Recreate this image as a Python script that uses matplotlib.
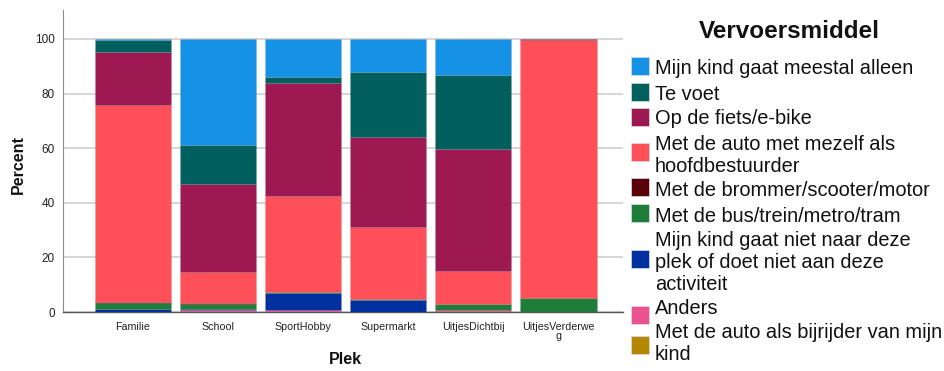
import matplotlib
matplotlib.use("Agg")
import matplotlib.pyplot as plt
from matplotlib.patches import Rectangle
import numpy as np

plt.rcParams['font.family'] = ['Liberation Sans', 'DejaVu Sans']

# Places (x categories)
plekken = ["Familie", "School", "SportHobby", "Supermarkt", "UitjesDichtbij", "UitjesVerderweg"]
plek_labels = ["Familie", "School", "SportHobby", "Supermarkt", "UitjesDichtbij", "UitjesVerderwe\ng"]

# Percentages per mode of transport, one value per place (stacked bottom -> top)
bijrijder = [0.0, 0.0, 0.0, 0.0, 0.0, 0.0]
anders = [0.0, 0.6, 0.9, 0.0, 0.6, 0.0]
niet = [1.0, 0.5, 6.2, 4.4, 0.0, 0.0]
bus = [2.4, 1.7, 0.4, 0.4, 2.5, 5.0]
brommer = [0.4, 0.4, 0.0, 0.0, 0.0, 0.3]
auto_zelf = [72.0, 11.5, 34.9, 26.3, 12.0, 94.5]
fiets = [19.3, 32.3, 41.4, 33.0, 44.6, 0.2]
te_voet = [4.4, 14.3, 2.4, 23.9, 27.0, 0.0]
alleen = [0.5, 38.7, 13.8, 12.0, 13.3, 0.0]

legend_labels = [
    "Mijn kind gaat meestal alleen",
    "Te voet",
    "Op de fiets/e-bike",
    "Met de auto met mezelf als\nhoofdbestuurder",
    "Met de brommer/scooter/motor",
    "Met de bus/trein/metro/tram",
    "Mijn kind gaat niet naar deze\nplek of doet niet aan deze\nactiviteit",
    "Anders",
    "Met de auto als bijrijder van mijn\nkind",
]
colors = ["#1591E6", "#015F5E", "#9E1951", "#FF4F59", "#5B0008",
          "#1E7D39", "#0030A0", "#EA538F", "#B58600"]

series = [alleen, te_voet, fiets, auto_zelf, brommer, bus, niet, anders, bijrijder]

W, H = 944.0, 371.0
fig = plt.figure(figsize=(9.44, 3.71), dpi=100)
ax = fig.add_axes([0.0667, 0.159, 0.5935, 0.814])

x = np.arange(len(plekken))
bottom = np.zeros(len(plekken))
# draw from the bottom of the stack upward
for vals, col in zip(reversed(series), reversed(colors)):
    v = np.array(vals)
    ax.bar(x, v, bottom=bottom, width=0.894, color=col,
           edgecolor=(0.5, 0.5, 0.5, 0.18), linewidth=0.5, zorder=3)
    bottom += v

ax.set_xlim(-0.82, 5.76)
ax.set_ylim(0, 110.6)
ax.set_yticks([0, 20, 40, 60, 80, 100])
ax.set_xticks(x)
ax.set_xticklabels(plek_labels, fontsize=7.7, linespacing=0.85)
ax.tick_params(axis='y', labelsize=8.5, length=0, pad=6, labelcolor='#222222')
ax.tick_params(axis='x', length=0, pad=7, labelcolor='#222222')
ax.yaxis.grid(True, color='#cfcfcf', linewidth=1.2, zorder=0)
ax.set_axisbelow(True)
for s in ['top', 'right']:
    ax.spines[s].set_visible(False)
ax.spines['left'].set_color('#8c8c8c')
ax.spines['bottom'].set_color('#555555')
ax.spines['bottom'].set_linewidth(1.0)

# Axis titles
fig.text(18 / W, 1 - 165 / H, "Percent", fontsize=11.5, fontweight='bold',
         rotation=90, ha='center', va='center', color='#111111')
fig.text(345 / W, 1 - 360 / H, "Plek", fontsize=11.5, fontweight='bold',
         ha='center', va='center', color='#111111')

# Legend drawn by hand on the figure
fig.text(789 / W, 1 - 31 / H, "Vervoersmiddel", fontsize=17.5, fontweight='bold',
         ha='center', va='center', color='#111111')
square_y = [66, 92, 116.5, 152, 187, 213, 259, 314.5, 345]
text_y = [68, 94, 119, 155, 190, 216, 262, 308, 343]
for lab, col, sy, ty in zip(legend_labels, colors, square_y, text_y):
    fig.patches.append(Rectangle((631 / W, 1 - (sy + 9) / H), 18 / W, 18 / H,
                                 transform=fig.transFigure, facecolor=col,
                                 edgecolor='#dddddd', linewidth=0.5))
    fig.text(655 / W, 1 - ty / H, lab, fontsize=14.4, ha='left', va='center',
             linespacing=1.2, color='#111111')

fig.savefig("out.png", dpi=100)
